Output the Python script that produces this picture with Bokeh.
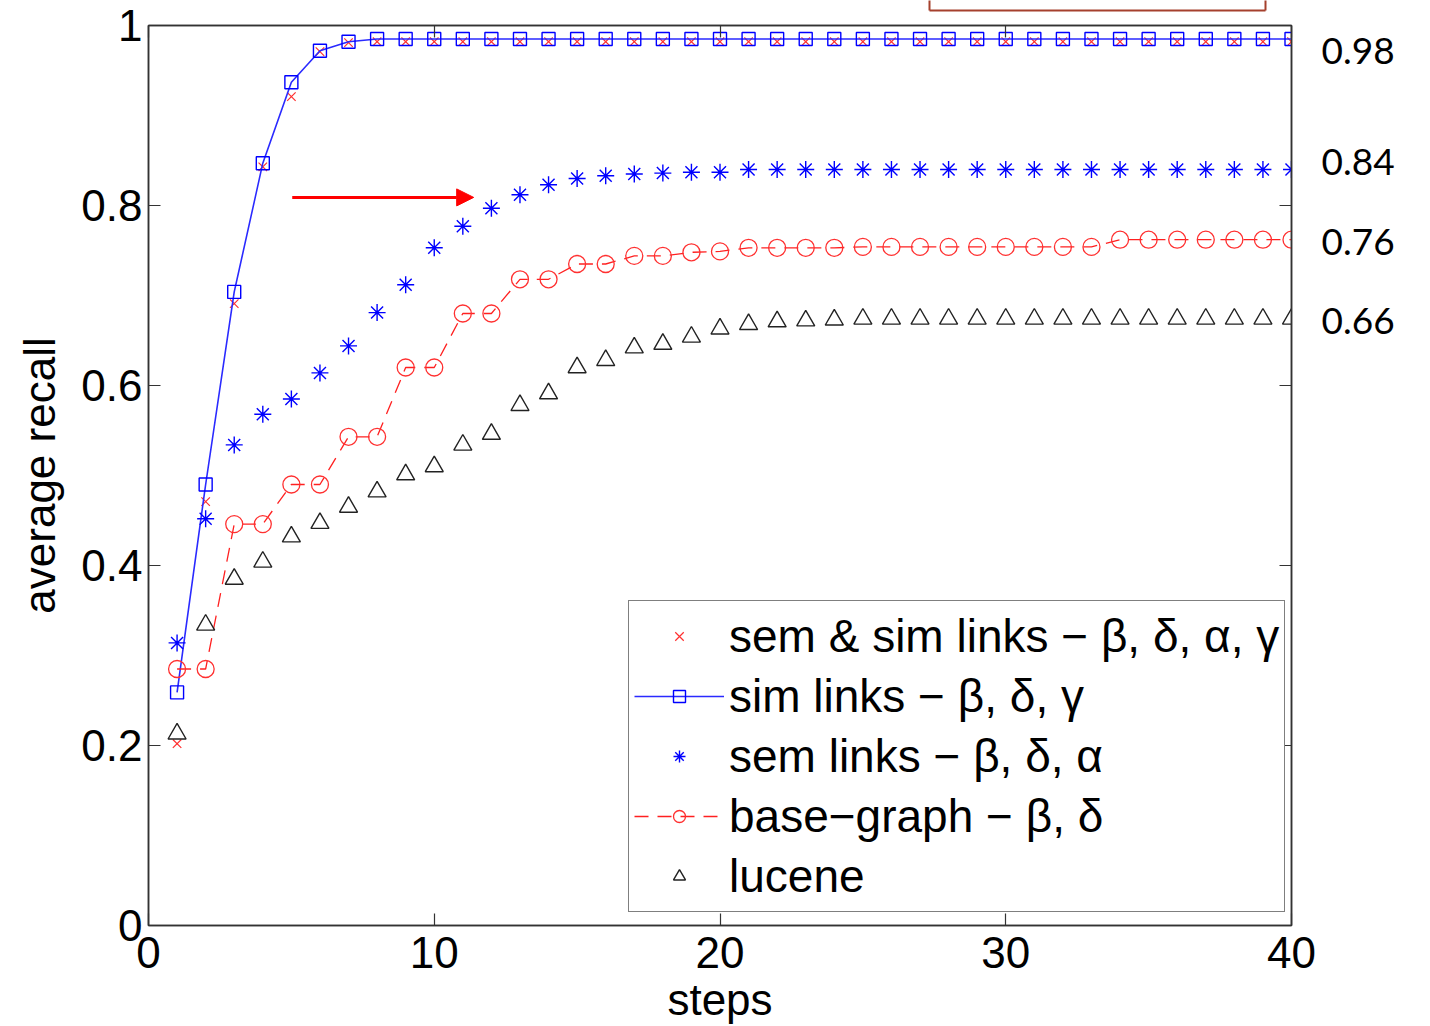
from bokeh.plotting import figure
from bokeh.models import (Range1d, LinearAxis, FixedTicker, Legend, LegendItem,
                          Arrow, NormalHead)
from bokeh.embed import file_html
from bokeh.resources import INLINE

# ---------------- data ----------------
steps = list(range(1, 41))

sem_sim = [0.202, 0.471, 0.691, 0.843, 0.921, 0.971, 0.981, 0.982, 0.982, 0.982,
           0.982, 0.982, 0.982, 0.982, 0.982, 0.982, 0.982, 0.982, 0.982, 0.982,
           0.982, 0.982, 0.982, 0.982, 0.982, 0.982, 0.982, 0.982, 0.982, 0.982,
           0.982, 0.982, 0.982, 0.982, 0.982, 0.982, 0.982, 0.982, 0.982, 0.982]

sim = [0.259, 0.490, 0.704, 0.847, 0.937, 0.972, 0.982, 0.985, 0.985, 0.985,
       0.985, 0.985, 0.985, 0.985, 0.985, 0.985, 0.985, 0.985, 0.985, 0.985,
       0.985, 0.985, 0.985, 0.985, 0.985, 0.985, 0.985, 0.985, 0.985, 0.985,
       0.985, 0.985, 0.985, 0.985, 0.985, 0.985, 0.985, 0.985, 0.985, 0.985]

sem = [0.314, 0.452, 0.534, 0.568, 0.585, 0.614, 0.644, 0.681, 0.712, 0.753,
       0.777, 0.797, 0.812, 0.823, 0.830, 0.833, 0.835, 0.836, 0.837, 0.837,
       0.840, 0.840, 0.840, 0.840, 0.840, 0.840, 0.840, 0.840, 0.840, 0.840,
       0.840, 0.840, 0.840, 0.840, 0.840, 0.840, 0.840, 0.840, 0.840, 0.840]

base = [0.285, 0.285, 0.446, 0.446, 0.490, 0.490, 0.543, 0.543, 0.620, 0.620,
        0.680, 0.680, 0.718, 0.718, 0.735, 0.735, 0.744, 0.744, 0.748, 0.749,
        0.753, 0.753, 0.753, 0.753, 0.754, 0.754, 0.754, 0.754, 0.754, 0.754,
        0.754, 0.754, 0.754, 0.762, 0.762, 0.762, 0.762, 0.762, 0.762, 0.762]

lucene = [0.213, 0.334, 0.385, 0.404, 0.432, 0.447, 0.465, 0.482, 0.501, 0.510,
          0.534, 0.546, 0.578, 0.591, 0.620, 0.628, 0.642, 0.646, 0.654, 0.663,
          0.668, 0.671, 0.672, 0.673, 0.674, 0.674, 0.674, 0.674, 0.674, 0.674,
          0.674, 0.674, 0.674, 0.674, 0.674, 0.674, 0.674, 0.674, 0.674, 0.674]

series_labels = ["sem & sim links − β, δ, α, γ",
                 "sim links − β, δ, γ",
                 "sem links − β, δ, α",
                 "base−graph − β, δ",
                 "lucene"]

x_ticks = [0, 10, 20, 30, 40]
y_ticks = [0, 0.2, 0.4, 0.6, 0.8, 1]
y_tick_labels = ["0", "0.2", "0.4", "0.6", "0.8", "1"]

# final-value call-outs on the right side
side_labels = ["0.98", "0.84", "0.76", "0.66"]
side_label_y = [0.972, 0.848, 0.760, 0.672]

# ---------------- main figure ----------------
FONT = "Liberation Sans"
p = figure(width=1430, height=1026, output_backend="svg", toolbar_location=None,
           x_range=Range1d(0, 40), y_range=Range1d(0, 1),
           min_border_left=148, min_border_right=139, min_border_top=25,
           min_border_bottom=101)
p.background_fill_color = "white"
p.border_fill_color = "white"
p.grid.visible = False
p.outline_line_color = "#333333"
p.outline_line_width = 1.5

AX_COL = "#333333"
for ax in (p.xaxis[0], p.yaxis[0]):
    ax.axis_line_color = AX_COL
    ax.axis_line_width = 1.5
    ax.major_tick_in = 12
    ax.major_tick_out = 0
    ax.major_tick_line_color = AX_COL
    ax.major_tick_line_width = 1.2
    ax.minor_tick_line_color = None
    ax.major_label_text_font = FONT
    ax.major_label_text_font_size = "44px"
    ax.major_label_text_color = "black"
    ax.axis_label_text_font = FONT
    ax.axis_label_text_font_style = "normal"
    ax.axis_label_text_font_size = "44px"
    ax.axis_label_text_color = "black"

p.xaxis[0].ticker = FixedTicker(ticks=x_ticks)
p.yaxis[0].ticker = FixedTicker(ticks=y_ticks)
p.yaxis[0].major_label_overrides = {t: s for t, s in zip(y_ticks, y_tick_labels)}
p.xaxis[0].axis_label = "steps"
p.yaxis[0].axis_label = "average recall"
p.xaxis[0].major_label_standoff = 11
p.yaxis[0].major_label_standoff = 6
p.xaxis[0].axis_label_standoff = 4
p.yaxis[0].axis_label_standoff = 14

# right axis: inner ticks (as minor ticks) + final-value call-outs as labels
rax = LinearAxis(ticker=FixedTicker(ticks=side_label_y, minor_ticks=y_ticks))
rax.axis_line_color = AX_COL
rax.axis_line_width = 1.5
rax.major_tick_in = 0
rax.major_tick_out = 0
rax.minor_tick_in = 12
rax.minor_tick_out = 0
rax.minor_tick_line_color = AX_COL
rax.minor_tick_line_width = 1.2
rax.major_label_overrides = {t: s for t, s in zip(side_label_y, side_labels)}
rax.major_label_text_font = "Lato"
rax.major_label_text_font_size = "37px"
rax.major_label_text_color = "black"
rax.major_label_standoff = 30
p.add_layout(rax, "right")

# top axis (nearest the frame): inner ticks only
tax = LinearAxis(ticker=FixedTicker(ticks=[], minor_ticks=x_ticks))
tax.axis_line_color = AX_COL
tax.axis_line_width = 1.5
tax.major_tick_in = 0
tax.major_tick_out = 0
tax.minor_tick_in = 12
tax.minor_tick_out = 0
tax.minor_tick_line_color = AX_COL
tax.minor_tick_line_width = 1.2
p.add_layout(tax, "above")

# invisible spacer axis: reserves a 15px gap above the frame
gap = LinearAxis(ticker=FixedTicker(ticks=[], minor_ticks=[x_ticks[2]]))
gap.axis_line_alpha = 0
gap.major_tick_in = 0
gap.major_tick_out = 0
gap.minor_tick_in = 0
gap.minor_tick_out = 15
gap.minor_tick_line_alpha = 0
p.add_layout(gap, "above")

# bottom edge of a cropped box above the plot (a bounded outer axis)
box_left, box_right = 27.33, 39.09
bax = LinearAxis(bounds=(box_left, box_right),
                 ticker=FixedTicker(ticks=[], minor_ticks=[box_left, box_right]))
bax.axis_line_color = "#a5402d"
bax.axis_line_width = 2
bax.major_tick_in = 0
bax.major_tick_out = 0
bax.minor_tick_in = 0
bax.minor_tick_out = 10
bax.minor_tick_line_color = "#a5402d"
bax.minor_tick_line_width = 2
p.add_layout(bax, "above")

# ---------------- series ----------------
r_semsim = p.scatter(steps, sem_sim, marker="x", size=12, line_color="#ff3030", line_width=1.2)
r_sim_line = p.line(steps, sim, line_color="#2a2aff", line_width=1.6)
r_sim_pts = p.scatter(steps, sim, marker="square", size=13, line_color="#0000ff",
                      fill_color=None, line_width=1.4)
r_sem = p.scatter(steps, sem, marker="asterisk", size=17, line_color="#0000ff", line_width=1.4)
r_base_line = p.line(steps, base, line_color="#ff2020", line_width=1.3, line_dash="14 9")
r_base_pts = p.scatter(steps, base, marker="circle", size=17, line_color="#ff3030",
                       fill_color=None, line_width=1.3)
r_luc = p.scatter(steps, lucene, marker="triangle", size=18, line_color="#222222",
                  fill_color=None, line_width=1.4)

legend = Legend(items=[
    LegendItem(label=series_labels[0], renderers=[r_semsim]),
    LegendItem(label=series_labels[1], renderers=[r_sim_line, r_sim_pts]),
    LegendItem(label=series_labels[2], renderers=[r_sem]),
    LegendItem(label=series_labels[3], renderers=[r_base_line, r_base_pts]),
    LegendItem(label=series_labels[4], renderers=[r_luc]),
], location=(480, 13))
legend.label_text_font = FONT
legend.label_text_font_size = "46px"
legend.label_text_color = "black"
legend.glyph_width = 90
legend.glyph_height = 30
legend.label_height = 60
legend.label_standoff = 5
legend.spacing = 0
legend.padding = 5
legend.margin = 0
legend.border_line_color = "black"
legend.border_line_width = 1.5
legend.background_fill_color = "white"
legend.background_fill_alpha = 1.0
p.add_layout(legend, "center")

# ---------------- annotations ----------------
p.add_layout(Arrow(end=NormalHead(size=17, fill_color="red", line_color="red"),
                   x_start=5.03, y_start=0.809, x_end=11.38, y_end=0.809,
                   line_color="red", line_width=3))

open("out.html", "w").write(file_html(p, INLINE))
